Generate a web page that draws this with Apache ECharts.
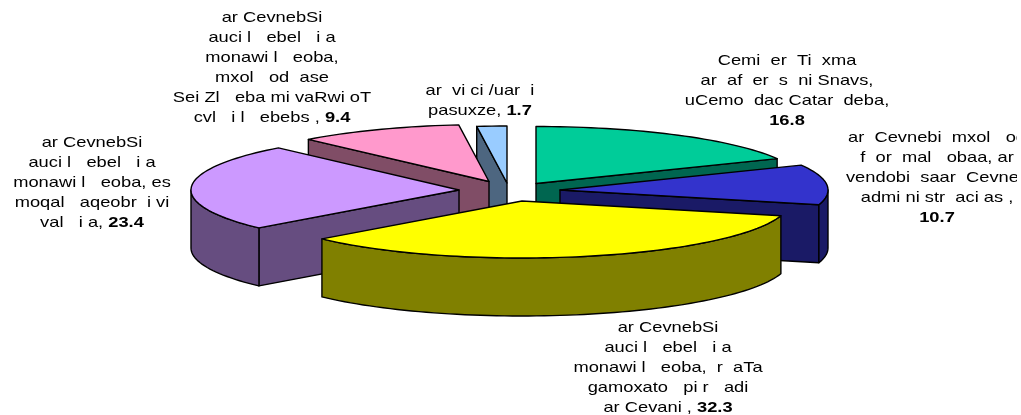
<!DOCTYPE html>
<html><head><meta charset="utf-8">
<style>html,body{margin:0;padding:0;background:#fff}#c{width:1017px;height:415px;overflow:hidden}</style>
<script src="https://cdn.jsdelivr.net/npm/echarts@6/dist/echarts.min.js"></script>
</head><body><div id="c"></div>
<script>
const values = [16.8, 10.7, 32.3, 23.4, 9.4, 1.7];
const labelLines = [
  ["Cemi  er  Ti  xma", "ar  af  er  s  ni Snavs,", "uCemo  dac Catar  deba,", ""],
  ["ar  Cevnebi  mxol   od", "f  or  mal   obaa, ar", "vendobi  saar  Cevnes", "admi ni str  aci as ,", ""],
  ["ar CevnebSi", "auci l   ebel   i a", "monawi l   eoba,  r  aTa", "gamoxato   pi r   adi", "ar Cevani , "],
  ["ar CevnebSi", "auci l   ebel   i a", "monawi l   eoba, es", "moqal   aqeobr  i vi", "val   i a, "],
  ["ar CevnebSi", "auci l   ebel   i a", "monawi l   eoba,", "mxol   od  ase", "Sei Zl   eba mi vaRwi oT", "cvl   i l   ebebs , "],
  ["ar  vi ci /uar  i", "pasuxze, "]
];
const topColors = ["#00CC99", "#3333CC", "#FFFF00", "#CC99FF", "#FF99CC", "#99CCFF"];
const sideColors = ["#006650", "#1A1A66", "#808000", "#664D80", "#804D66", "#4D6680"];
const drawOrder = [5, 4, 0, 3, 1, 2];
const explodeX = [20, 44, 6, -57, -27, -9];
const explodeY = [-1.5, 5, 16, 5, -3.5, -2];
const labelX = [787, 937, 668, 92, 272, 480];
const labelY = [61, 138, 328, 143, 18, 91];

const centerX = 516, centerY = 185, radiusX = 268, radiusY = 57, depth = 58, lineGap = 20;
const total = values.reduce((a, b) => a + b, 0);
const cum = [0];
values.forEach((v, i) => cum.push(cum[i] + v));
const ang = v => v / total * 2 * Math.PI;

function sliceParts(i) {
  const a0 = ang(cum[i]), a1 = ang(cum[i + 1]);
  const ax = centerX + explodeX[i], ay = centerY + explodeY[i];
  const pt = (t, d) => [ax + radiusX * Math.sin(t), ay - radiusY * Math.cos(t) + (d || 0)];
  const arc = (s, e, d) => {
    const n = Math.max(2, Math.ceil((e - s) / 0.03)), out = [];
    for (let k = 0; k <= n; k++) out.push(pt(s + (e - s) * k / n, d));
    return out;
  };
  const style = (fill) => ({ fill, stroke: '#000', lineWidth: 1.4, lineJoin: 'round' });
  const poly = (points, fill) => ({ type: 'polygon', shape: { points }, style: style(fill) });
  const parts = [];
  const wall = (t) => {
    const p = pt(t), q = pt(t, depth);
    return poly([[ax, ay], p, q, [ax, ay + depth]], sideColors[i]);
  };
  if (Math.sin(a0) < -1e-6) parts.push(wall(a0));
  if (Math.sin(a1) > 1e-6) parts.push(wall(a1));
  const fs = Math.max(a0, Math.PI / 2), fe = Math.min(a1, 3 * Math.PI / 2);
  if (fe > fs) parts.push(poly(arc(fs, fe, 0).concat(arc(fs, fe, depth).reverse()), sideColors[i]));
  parts.push(poly([[ax, ay]].concat(arc(a0, a1, 0)), topColors[i]));
  return parts;
}

function labelParts(i) {
  const lines = labelLines[i];
  return lines.map((line, k) => {
    const last = k === lines.length - 1;
    const t = last ? `{n|${line}}{b|${values[i].toFixed(1)}}` : `{n|${line}}`;
    return {
      type: 'text', x: labelX[i], y: labelY[i] + k * lineGap, scaleX: 1.22, scaleY: 1,
      style: {
        text: t, align: 'center', verticalAlign: 'middle',
        rich: {
          n: { font: '15px "Liberation Sans"', fill: '#000' },
          b: { font: 'bold 15px "Liberation Sans"', fill: '#000' }
        }
      }
    };
  });
}

const chart = echarts.init(document.getElementById('c'), null, { renderer: 'canvas' });
chart.setOption({
  animation: false,
  backgroundColor: '#fff',
  series: [{
    type: 'custom', coordinateSystem: 'none', silent: true,
    data: drawOrder.map(i => [i, values[i]]),
    renderItem: (p, api) => ({ type: 'group', children: sliceParts(api.value(0)) })
  }, {
    type: 'custom', coordinateSystem: 'none', silent: true, z: 5,
    data: values.map((v, i) => [i, v]),
    renderItem: (p, api) => ({ type: 'group', children: labelParts(api.value(0)) })
  }]
});
</script></body></html>
